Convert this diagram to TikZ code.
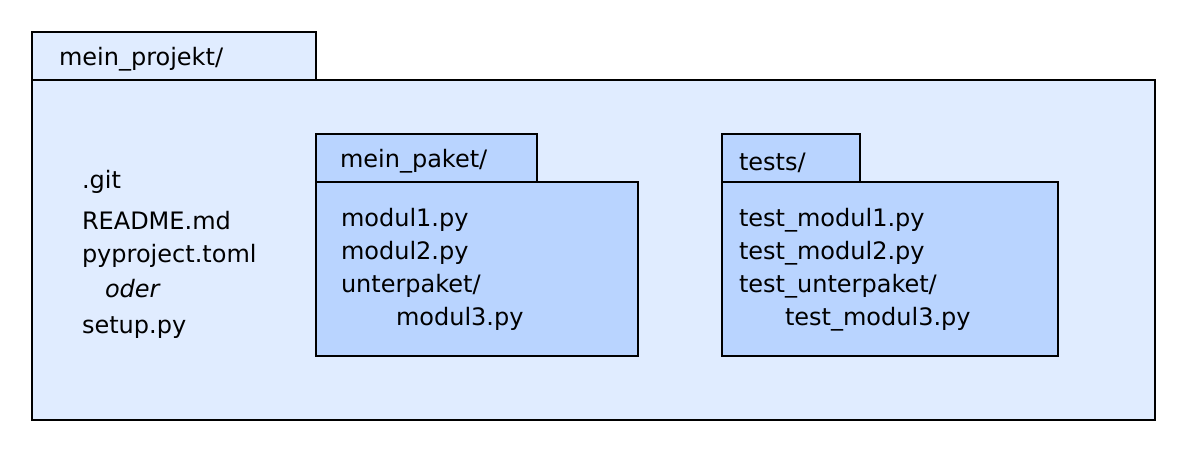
\documentclass[tikz,border=0pt]{standalone}
\usepackage{fontspec}
\setmainfont{DejaVu Sans}
\definecolor{outerblue}{HTML}{E0ECFF}
\definecolor{innerblue}{HTML}{B9D4FF}
\begin{document}
\begin{tikzpicture}
  [x=0.5pt,y=-0.5pt,line width=1pt,
   every node/.style={anchor=base west,inner sep=0pt,font=\fontsize{12}{15}\selectfont}]
  \tikzstyle{outerbox} = [draw=black,fill=outerblue]
  \tikzstyle{innerbox} = [draw=black,fill=innerblue]
  \useasboundingbox (0,0) rectangle (1200,450);
  % project folder
  \draw[outerbox] (32,32) rectangle (316,80);
  \draw[outerbox] (32,80) rectangle (1155,420);
  \node (projekt) at (58,65) {mein\_projekt/};
  \node (git)    at (81,188) {.git};
  \node (readme) at (81,229) {README.md};
  \node (pyproj) at (81,262) {pyproject.toml};
  \node (oder)   at (104,297) {\itshape oder};
  \node (setup)  at (81,333) {setup.py};
  % package folder
  \draw[innerbox] (316,134) rectangle (537,182);
  \draw[innerbox] (316,182) rectangle (638,356);
  \node (paket) at (339,167) {mein\_paket/};
  \foreach \name/\file/\xx/\yy in {m1/modul1.py/340/226,m2/modul2.py/340/259,
      up/{unterpaket/}/340/292,m3/modul3.py/395/325}
    \node (\name) at (\xx,\yy) {\file};
  % test folder
  \draw[innerbox] (722,134) rectangle (860,182);
  \draw[innerbox] (722,182) rectangle (1058,356);
  \node (tests) at (738,170) {tests/};
  \foreach \name/\file/\xx/\yy in {t1/test\_modul1.py/738/226,t2/test\_modul2.py/738/259,
      tu/{test\_unterpaket/}/738/292,t3/test\_modul3.py/784/325}
    \node (\name) at (\xx,\yy) {\file};
\end{tikzpicture}
\end{document}
